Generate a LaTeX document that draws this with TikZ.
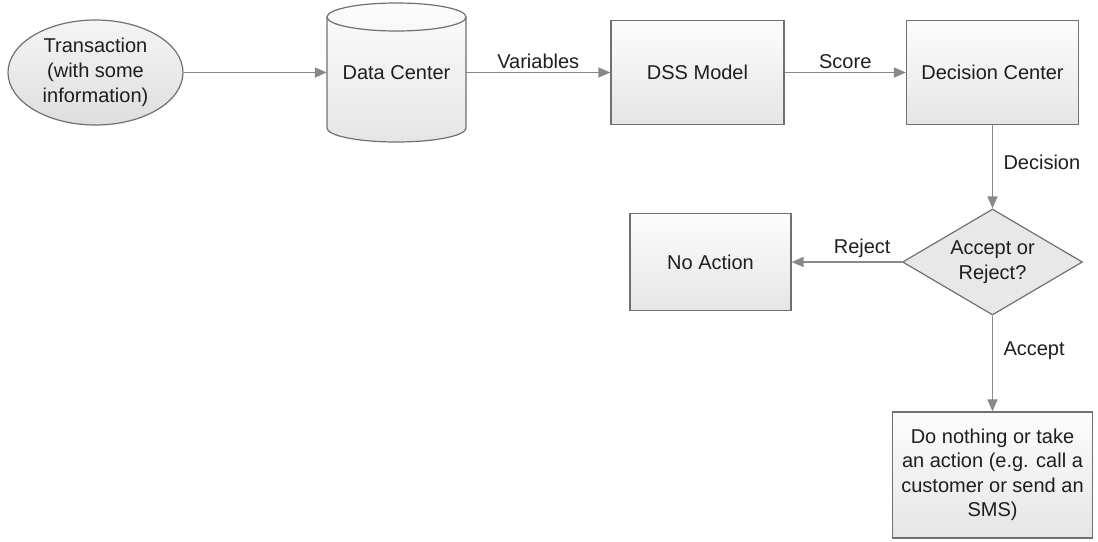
\documentclass[tikz,border=0pt]{standalone}
\usepackage{fontspec}
\setmainfont{Liberation Sans}
\usetikzlibrary{shapes.geometric,arrows.meta}
\definecolor{edgegray}{HTML}{888888}
\definecolor{bordergray}{HTML}{707070}
\definecolor{inkgray}{HTML}{1E1E1E}
\begin{document}
\begin{tikzpicture}[x=1pt,y=-1pt,
  font=\fontsize{20}{25}\selectfont, text=inkgray,
  shade/.style={top color=white!99!black, bottom color=white!90!black},
  box/.style={draw=bordergray, line width=1.2pt, shade, inner sep=0pt, align=center},
  flow/.style={draw=edgegray, line width=1.4pt, -{Triangle[length=12pt,width=10pt]}},
  lbl/.style={inner sep=3.3pt}]
\useasboundingbox (0,0) rectangle (1098,541);

% start event
\node[box, ellipse, top color=white!96!black, bottom color=white!87!black,
      minimum width=175pt, minimum height=105pt] (trans) at (95.5,72.5)
  {Transaction\\(with some\\information)};

% data store drawn as a cylinder
\path[draw=bordergray, line width=1.2pt, shade]
  (327,17) -- (327,128) arc[start angle=180, end angle=0, x radius=69.5, y radius=14]
  -- (466,17) arc[start angle=0, end angle=-180, x radius=69.5, y radius=14] -- cycle;
\draw[bordergray, line width=1.2pt]
  (327,17) arc[start angle=180, end angle=0, x radius=69.5, y radius=14];
\node[minimum width=139pt, minimum height=139pt, inner sep=0pt] (dc) at (396.5,72.5) {Data Center};

% processing steps
\node[box, minimum width=173pt, minimum height=104pt] (dss) at (697.5,72.5) {DSS Model};
\node[box, minimum width=172pt, minimum height=104pt] (dcen) at (992.5,72.5) {Decision Center};
\node[draw=bordergray, line width=1.2pt, fill=white!91!black, diamond, inner sep=0pt,
      minimum width=180pt, minimum height=106pt,
      label={[align=center, text=inkgray]center:Accept or\\Reject?}] (dec) at (992.5,262) {};
\node[box, minimum width=161pt, minimum height=97pt] (noact) at (710.5,262) {No Action};
\node[box, minimum width=200pt, minimum height=126pt, font=\fontsize{20}{24.5}\selectfont]
  (act) at (992.5,475) {Do nothing or take\\an action (e.g. call a\\customer or send an\\SMS)};

% connectors
\draw[flow] (trans) -- (dc);
\draw[flow] (dc) -- node[lbl, above] {Variables} (dss);
\draw[flow] (dss) -- node[lbl, above] {Score} (dcen);
\draw[flow] (dcen) -- node[lbl, right=7pt, pos=0.45] {Decision} (dec);
\draw[flow] (dec) -- node[lbl, above, pos=0.36] {Reject} (noact);
\draw[flow] (dec) -- node[lbl, right=7pt, pos=0.37] {Accept} (act);
\end{tikzpicture}
\end{document}
